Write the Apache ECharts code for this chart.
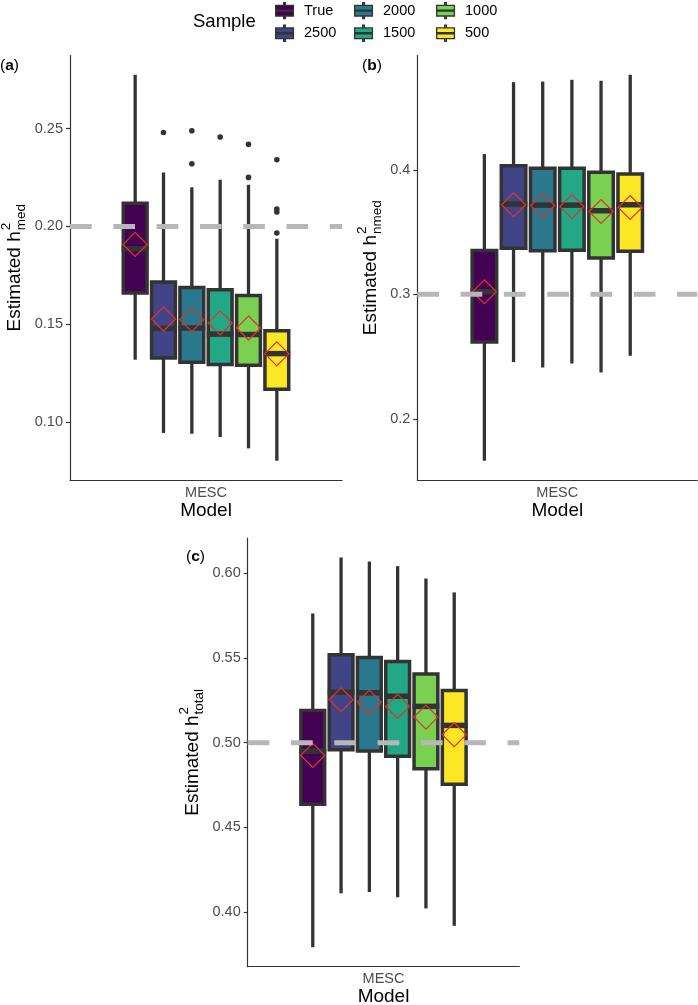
<!DOCTYPE html>
<html><head><meta charset="utf-8">
<script src="https://cdn.jsdelivr.net/npm/echarts@6/dist/echarts.min.js"></script>
<style>html,body{margin:0;padding:0;background:#fff}#c{width:698px;height:1005px}</style>
</head><body><div id="c"></div>
<script>
// ---------------- data ----------------
const samples = ['True', '2500', '2000', '1500', '1000', '500'];
const modelCats = ['MESC'];
// each row: [min, Q1, median, Q3, max]
const boxA = [
  [0.1318, 0.1659, 0.1886, 0.2119, 0.2776],
  [0.0943, 0.1327, 0.1478, 0.1716, 0.2276],
  [0.0939, 0.1305, 0.1480, 0.1688, 0.2200],
  [0.0922, 0.1293, 0.1449, 0.1676, 0.2239],
  [0.0864, 0.1289, 0.1447, 0.1647, 0.2213],
  [0.0801, 0.1167, 0.1349, 0.1466, 0.1937]
];
const meanA = [0.1908, 0.1526, 0.1523, 0.1506, 0.1480, 0.1348];
const outliersA = [[], [0.2481], [0.2490, 0.2321], [0.2458], [0.2420, 0.2251], [0.2341, 0.2089, 0.2074, 0.1966]];
const refA = 0.20;
const ticksA = [0.10, 0.15, 0.20, 0.25];

const boxB = [
  [0.1663, 0.2616, 0.3020, 0.3351, 0.4126],
  [0.2455, 0.3369, 0.3725, 0.4032, 0.4704],
  [0.2412, 0.3350, 0.3716, 0.4013, 0.4709],
  [0.2444, 0.3353, 0.3716, 0.4013, 0.4723],
  [0.2372, 0.3291, 0.3671, 0.3981, 0.4715],
  [0.2506, 0.3345, 0.3719, 0.3967, 0.4763]
];
const meanB = [0.3020, 0.3719, 0.3713, 0.3705, 0.3665, 0.3697];
const outliersB = [[], [], [], [], [], []];
const refB = 0.30;
const ticksB = [0.2, 0.3, 0.4];

const boxC = [
  [0.3794, 0.4637, 0.4950, 0.5190, 0.5762],
  [0.4112, 0.4959, 0.5298, 0.5519, 0.6092],
  [0.4120, 0.4951, 0.5294, 0.5502, 0.6068],
  [0.4088, 0.4920, 0.5274, 0.5478, 0.6041],
  [0.4023, 0.4847, 0.5214, 0.5405, 0.5968],
  [0.3920, 0.4755, 0.5102, 0.5308, 0.5886]
];
const meanC = [0.4925, 0.5253, 0.5239, 0.5214, 0.5151, 0.5047];
const outliersC = [[], [], [], [], [], []];
const refC = 0.50;
const ticksC = [0.40, 0.45, 0.50, 0.55, 0.60];

// ---------------- style / layout ----------------
const colors = ['#440154', '#414487', '#2A788E', '#22A884', '#7AD151', '#FDE725'];
const FONT = '"Liberation Sans", Arial, Helvetica, sans-serif';
const DODGE = 0.75, XRANGE = 1.2, BOX_FRAC = 0.84, DIAMOND = 12;
const INK = '#333333';

const panels = [
  { tag: 'a', box: boxA, mean: meanA, out: outliersA, ref: refA, ticks: ticksA, dec: 2, sub: 'med',
    grid: { left: 70, top: 55.5, width: 272, height: 424.5 }, titleX: 15, labelPos: [0, 58] },
  { tag: 'b', box: boxB, mean: meanB, out: outliersB, ref: refB, ticks: ticksB, dec: 1, sub: 'nmed',
    grid: { left: 417.3, top: 55.5, width: 280, height: 424.5 }, titleX: 371, labelPos: [362, 58] },
  { tag: 'c', box: boxC, mean: meanC, out: outliersC, ref: refC, ticks: ticksC, dec: 2, sub: 'total',
    grid: { left: 247.7, top: 538, width: 271.6, height: 428.7 }, titleX: 193, labelPos: [186, 549] }
];

function slotCenter(api, i) {
  const band = api.size([1, 0])[0];
  const slot = band * DODGE / XRANGE / samples.length;
  const cx = api.coord([api.value(0), 0])[0] + (i - (samples.length - 1) / 2) * slot;
  return { cx, slot };
}
function makeBoxRenderer(i) {
  return function (params, api) {
    const { cx, slot } = slotCenter(api, i);
    const w = slot * BOX_FRAC;
    const yy = k => api.coord([api.value(0), api.value(k)])[1];
    const yMin = yy(1), yQ1 = yy(2), yMed = yy(3), yQ3 = yy(4), yMax = yy(5), yMean = yy(6);
    const d = DIAMOND;
    return { type: 'group', children: [
      { type: 'line', shape: { x1: cx, y1: yMax, x2: cx, y2: yQ3 }, style: { stroke: INK, lineWidth: 3.3 } },
      { type: 'line', shape: { x1: cx, y1: yQ1, x2: cx, y2: yMin }, style: { stroke: INK, lineWidth: 3.3 } },
      { type: 'rect', shape: { x: cx - w / 2, y: yQ3, width: w, height: yQ1 - yQ3 },
        style: { fill: colors[i], stroke: INK, lineWidth: 3.5 } },
      { type: 'line', shape: { x1: cx - w / 2 - 1.5, y1: yMed, x2: cx + w / 2 + 1.5, y2: yMed },
        style: { stroke: INK, lineWidth: 5.5 } },
      { type: 'polygon', shape: { points: [[cx, yMean - d], [cx + d, yMean], [cx, yMean + d], [cx - d, yMean]] },
        style: { fill: 'none', stroke: '#e0332c', lineWidth: 1.2 } }
    ] };
  };
}
function makeOutlierRenderer(i) {
  return function (params, api) {
    const { cx } = slotCenter(api, i);
    const y = api.coord([api.value(0), api.value(1)])[1];
    return { type: 'circle', shape: { cx, cy: y, r: 2.8 }, style: { fill: INK } };
  };
}
function refRenderer(params, api) {
  const cs = params.coordSys;
  const y = api.coord([api.value(0), api.value(1)])[1];
  return { type: 'line', shape: { x1: cs.x, y1: y, x2: cs.x + cs.width, y2: y },
    style: { stroke: '#b7b7ba', lineWidth: 5, lineDash: [21.7, 21.6] } };
}

const measureCtx = document.createElement('canvas').getContext('2d');
function textW(str, size) { measureCtx.font = size + 'px ' + FONT; return measureCtx.measureText(str).width; }

const grid = [], xAxis = [], yAxis = [], series = [], graphic = [];
panels.forEach((p, pi) => {
  const all = [];
  p.box.forEach(b => all.push(b[0], b[4]));
  p.out.forEach(o => o.forEach(v => all.push(v)));
  all.push(p.ref);
  const lo = Math.min(...all), hi = Math.max(...all), pad = (hi - lo) * 0.05;

  grid.push(Object.assign({ outerBoundsMode: 'none', containLabel: false }, p.grid));
  xAxis.push({
    type: 'category', gridIndex: pi, data: modelCats, boundaryGap: true,
    axisLine: { lineStyle: { color: INK, width: 1.2 } },
    axisTick: { alignWithLabel: true, length: 4, lineStyle: { color: INK, width: 1.2 } },
    axisLabel: { fontSize: 14.5, fontFamily: FONT, color: '#4d4d4d', margin: 5 },
    name: 'Model', nameLocation: 'middle', nameGap: 21,
    nameTextStyle: { fontSize: 19, fontFamily: FONT, color: '#000' },
    splitLine: { show: false }
  });
  yAxis.push({
    type: 'value', gridIndex: pi, min: lo - pad, max: hi + pad,
    axisLine: { show: true, lineStyle: { color: INK, width: 1.2 } },
    axisTick: { show: true, length: 4, customValues: p.ticks, lineStyle: { color: INK, width: 1.2 } },
    axisLabel: { customValues: p.ticks, fontSize: 14.5, fontFamily: FONT, color: '#4d4d4d', margin: 7,
      formatter: v => Number(v).toFixed(p.dec) },
    splitLine: { show: false }
  });
  samples.forEach((s, i) => {
    series.push({
      type: 'custom', name: s, xAxisIndex: pi, yAxisIndex: pi, z: 2,
      encode: { x: 0, y: [1, 2, 3, 4, 5, 6] },
      data: [[modelCats[0]].concat(p.box[i], [p.mean[i]])],
      renderItem: makeBoxRenderer(i), silent: true
    });
    if (p.out[i].length) {
      series.push({
        type: 'custom', name: s, xAxisIndex: pi, yAxisIndex: pi, z: 3,
        encode: { x: 0, y: 1 },
        data: p.out[i].map(v => [modelCats[0], v]),
        renderItem: makeOutlierRenderer(i), silent: true
      });
    }
  });
  series.push({
    type: 'custom', name: 'reference', xAxisIndex: pi, yAxisIndex: pi, z: 10,
    encode: { x: 0, y: 1 }, data: [[modelCats[0], p.ref]], renderItem: refRenderer, silent: true
  });

  // y-axis title with super/subscript
  const main = 'Estimated h', mainSize = 19, smallSize = 13.5;
  const w1 = textW(main, mainSize), w2 = Math.max(textW('2', smallSize), textW(p.sub, smallSize));
  const tw = w1 + 1 + w2;
  const cy = p.grid.top + p.grid.height / 2;
  graphic.push({
    type: 'group', x: p.titleX, y: cy, rotation: Math.PI / 2, silent: true,
    children: [
      { type: 'text', x: -tw / 2, y: 0, style: { text: main, font: mainSize + 'px ' + FONT, fill: '#000', align: 'left', verticalAlign: 'middle' } },
      { type: 'text', x: -tw / 2 + w1 + 1, y: -9, style: { text: '2', font: smallSize + 'px ' + FONT, fill: '#000', align: 'left', verticalAlign: 'middle' } },
      { type: 'text', x: -tw / 2 + w1 + 1, y: 6.5, style: { text: p.sub, font: smallSize + 'px ' + FONT, fill: '#000', align: 'left', verticalAlign: 'middle' } }
    ]
  });
  // panel tag
  graphic.push({
    type: 'text', left: p.labelPos[0], top: p.labelPos[1], silent: true,
    style: { text: '{n|(}{b|' + p.tag + '}{n|)}',
      rich: { n: { fontSize: 15.5, fontFamily: FONT, fill: '#000' }, b: { fontSize: 15.5, fontFamily: FONT, fontWeight: 'bold', fill: '#000' } } }
  });
});

graphic.push({ type: 'text', left: 193, top: 12, silent: true,
  style: { text: 'Sample', font: '18.5px ' + FONT, fill: '#000' } });

const ICON = 'path://M9,0h2v3h-2z M0,3h20v12h-20z M0,8.4h20v1.2h-20z M9,15h2v3h-2z';
const legendLeft = [275, 354, 436];
const legend = [0, 1, 2].map(c => ({
  orient: 'vertical', left: legendLeft[c], top: 2, padding: 0, itemWidth: 19, itemHeight: 16, itemGap: 5.3,
  selectedMode: false,
  textStyle: { fontSize: 14.5, fontFamily: FONT, color: '#000', lineHeight: 16, padding: [0, 0, 0, 5] },
  data: [samples[2 * c], samples[2 * c + 1]].map((n, k) => ({
    name: n, icon: ICON,
    itemStyle: { color: colors[2 * c + k], borderColor: INK, borderWidth: 1.3 }
  }))
}));

const chart = echarts.init(document.getElementById('c'), null, { renderer: 'canvas' });
chart.setOption({
  animation: false, backgroundColor: '#fff',
  grid, xAxis, yAxis, series, legend, graphic
});
</script></body></html>
